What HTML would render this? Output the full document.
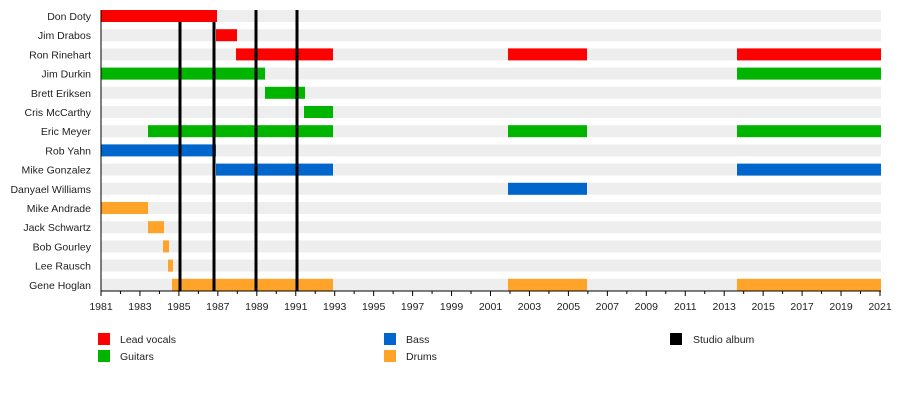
<!DOCTYPE html>
<html><head><meta charset="utf-8"><style>
body{margin:0;background:#fff;}
svg text{font-family:"Liberation Sans",sans-serif;font-size:10.5px;fill:#222;}
</style></head><body>
<svg width="900" height="400" xmlns="http://www.w3.org/2000/svg">
<g id="rows"></g>
<g id="bars"></g>
<g id="lines" stroke="#000" stroke-width="3"></g>
<g id="axis"></g>
<g id="legend">
<rect x="98" y="333" width="12" height="12" fill="#ff0000"/><text x="120" y="343">Lead vocals</text>
<rect x="98" y="350" width="12" height="12" fill="#00b400"/><text x="120" y="360">Guitars</text>
<rect x="384" y="333" width="12" height="12" fill="#0066cc"/><text x="406" y="343">Bass</text>
<rect x="384" y="350" width="12" height="12" fill="#ffa329"/><text x="406" y="360">Drums</text>
<rect x="670" y="333" width="12" height="12" fill="#000"/><text x="693" y="343">Studio album</text>
</g>
</svg>
<script>
const ns="http://www.w3.org/2000/svg";
function el(p,t,a,txt){const e=document.createElementNS(ns,t);for(const k in a)e.setAttribute(k,a[k]);if(txt)e.textContent=txt;document.getElementById(p).appendChild(e);return e;}
const R="#ff0000",G="#00b400",B="#0066cc",O="#ffa329";
const data=[
["Don Doty",[[101,217,R]]],
["Jim Drabos",[[216,237,R]]],
["Ron Rinehart",[[236,333,R],[508,587,R],[737,881,R]]],
["Jim Durkin",[[101,265,G],[737,881,G]]],
["Brett Eriksen",[[265,305,G]]],
["Cris McCarthy",[[304,333,G]]],
["Eric Meyer",[[148,333,G],[508,587,G],[737,881,G]]],
["Rob Yahn",[[101,216,B]]],
["Mike Gonzalez",[[216,333,B],[737,881,B]]],
["Danyael Williams",[[508,587,B]]],
["Mike Andrade",[[101,148,O]]],
["Jack Schwartz",[[148,164,O]]],
["Bob Gourley",[[163,169,O]]],
["Lee Rausch",[[168,173,O]]],
["Gene Hoglan",[[172,333,O],[508,587,O],[737,881,O]]]];
data.forEach((d,i)=>{const y=10+i*19.2;
el("rows","rect",{x:101,y:y,width:780,height:12,fill:"#eeeeee"});
el("rows","text",{x:91,y:y+10,"text-anchor":"end"},d[0]);
d[1].forEach(b=>el("bars","rect",{x:b[0],y:y,width:b[1]-b[0],height:12,fill:b[2]}));});
[[180,22],[214,22],[256,10],[297,10]].forEach(l=>el("lines","line",{x1:l[0],x2:l[0],y1:l[1],y2:291}));
const sx=y=>101+(y-1981)*19.475;
el("axis","line",{x1:101,x2:881,y1:291,y2:291,stroke:"#000","stroke-width":1});
el("axis","line",{x1:101,x2:101,y1:10,y2:291,stroke:"#000","stroke-width":1});
for(let y=1981;y<=2021;y++){const x=sx(y);
el("axis","line",{x1:x,x2:x,y1:291,y2:y%2?296:294,stroke:"#000","stroke-width":1});
if(y%2)el("axis","text",{x:x,y:310,"text-anchor":"middle"},String(y));}
</script>
</body></html>
